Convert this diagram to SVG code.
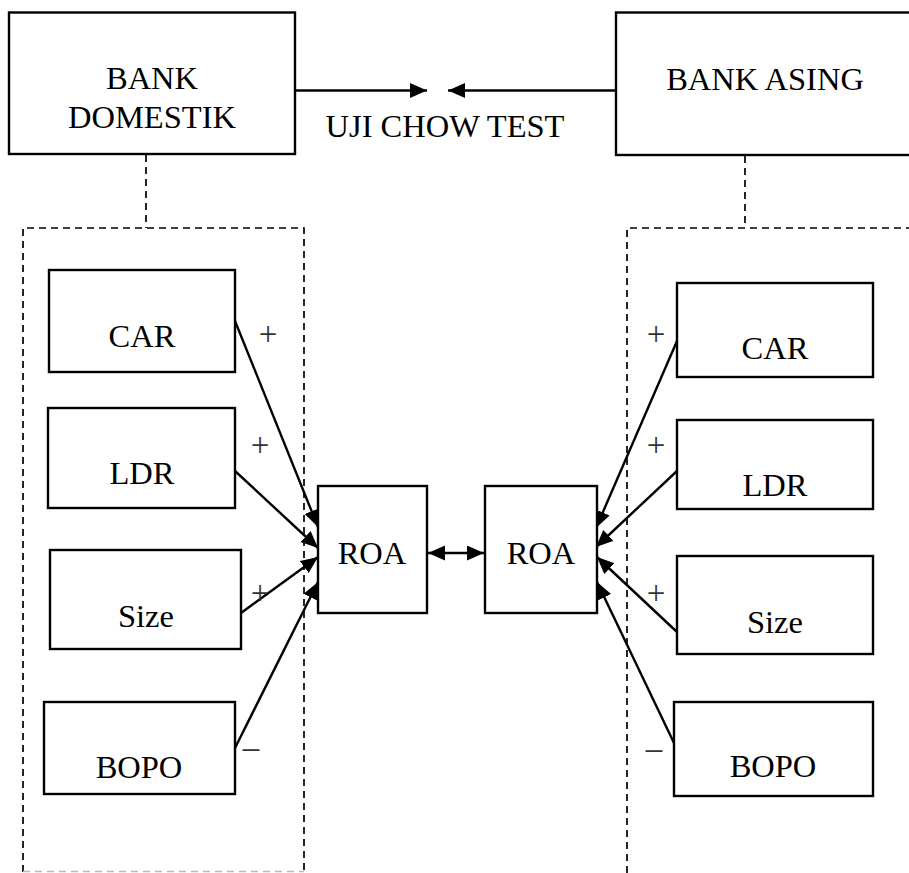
<svg xmlns="http://www.w3.org/2000/svg" width="909" height="873" viewBox="0 0 909 873">
<style>
.box{fill:#fff;stroke:#000;stroke-width:2.4}
.t{font-family:"Liberation Serif","Times New Roman",serif;font-size:32.5px;fill:#000;text-anchor:middle}
.s{font-family:"Liberation Serif","Times New Roman",serif;font-size:33px;fill:#333;text-anchor:middle}
.ln{stroke:#000;stroke-width:2.4;fill:none}
.dash{stroke:#000;stroke-width:1.7;fill:none;stroke-dasharray:7 5}
</style>
<defs>
<marker id="ah" markerUnits="userSpaceOnUse" markerWidth="18" markerHeight="16" refX="17" refY="7.5" orient="auto-start-reverse">
<path d="M0,0 L17,7.5 L0,15 z" fill="#000"/>
</marker>
</defs>
<rect width="909" height="873" fill="#fff"/>
<g id="dashed-frames">
<path class="dash" d="M23,872 V228 H304 V872"/>
<path d="M23,871.5 H304" stroke="#bbb" stroke-width="1.7" stroke-dasharray="7 5"/>
<path class="dash" d="M627,873 V228 H909"/>
</g>
<g id="connectors">
<line class="dash" x1="146" y1="155" x2="146" y2="228"/>
<line class="dash" x1="745" y1="156" x2="745" y2="228"/>
<line class="ln" x1="295" y1="90.5" x2="427" y2="90.5" marker-end="url(#ah)"/>
<line class="ln" x1="616" y1="90.5" x2="448" y2="90.5" marker-end="url(#ah)"/>
<line class="ln" x1="235" y1="321" x2="318" y2="527" marker-end="url(#ah)"/>
<line class="ln" x1="235" y1="471" x2="318" y2="548" marker-end="url(#ah)"/>
<line class="ln" x1="241" y1="613" x2="318" y2="557" marker-end="url(#ah)"/>
<line class="ln" x1="235" y1="748" x2="318" y2="582" marker-end="url(#ah)"/>
<line class="ln" x1="677" y1="341" x2="596" y2="528" marker-end="url(#ah)"/>
<line class="ln" x1="677" y1="471" x2="596" y2="547" marker-end="url(#ah)"/>
<line class="ln" x1="677" y1="632" x2="597" y2="557" marker-end="url(#ah)"/>
<line class="ln" x1="674" y1="743" x2="597" y2="582" marker-end="url(#ah)"/>
<line class="ln" x1="428" y1="553" x2="484" y2="553" marker-start="url(#ah)" marker-end="url(#ah)"/>
</g>
<g id="signs">
<text class="s" x="268" y="345">+</text>
<text class="s" x="260" y="456">+</text>
<text class="s" x="260" y="604">+</text>
<text class="s" x="251" y="758">–</text>
<text class="s" x="656" y="345">+</text>
<text class="s" x="656" y="456">+</text>
<text class="s" x="656" y="604">+</text>
<text class="s" x="654" y="759">–</text>
</g>
<g id="uji-chow">
<text class="t" x="445" y="137">UJI CHOW TEST</text>
</g>
<g id="bank-domestik">
<rect class="box" x="9" y="12.5" width="286" height="141.5"/>
<text class="t" x="152" y="89">BANK</text>
<text class="t" x="152" y="128">DOMESTIK</text>
</g>
<g id="bank-asing">
<rect class="box" x="616" y="12.5" width="300" height="142.5"/>
<text class="t" x="765" y="90">BANK ASING</text>
</g>
<g id="car-d"><rect class="box" x="49" y="270" width="186" height="102"/><text class="t" x="142" y="347">CAR</text></g>
<g id="ldr-d"><rect class="box" x="48" y="408" width="187" height="100"/><text class="t" x="142" y="484">LDR</text></g>
<g id="size-d"><rect class="box" x="50" y="550" width="191" height="99"/><text class="t" x="146" y="627">Size</text></g>
<g id="bopo-d"><rect class="box" x="44" y="702" width="191" height="92"/><text class="t" x="139" y="778">BOPO</text></g>
<g id="roa-d"><rect class="box" x="318" y="486" width="109" height="127"/><text class="t" x="372" y="564">ROA</text></g>
<g id="roa-a"><rect class="box" x="485" y="486" width="112" height="127"/><text class="t" x="541" y="564">ROA</text></g>
<g id="car-a"><rect class="box" x="677" y="283" width="196" height="94"/><text class="t" x="775" y="359">CAR</text></g>
<g id="ldr-a"><rect class="box" x="677" y="420" width="196" height="89"/><text class="t" x="775" y="496">LDR</text></g>
<g id="size-a"><rect class="box" x="677" y="556" width="196" height="98"/><text class="t" x="775" y="633">Size</text></g>
<g id="bopo-a"><rect class="box" x="674" y="702" width="199" height="94"/><text class="t" x="773" y="777">BOPO</text></g>
</svg>
